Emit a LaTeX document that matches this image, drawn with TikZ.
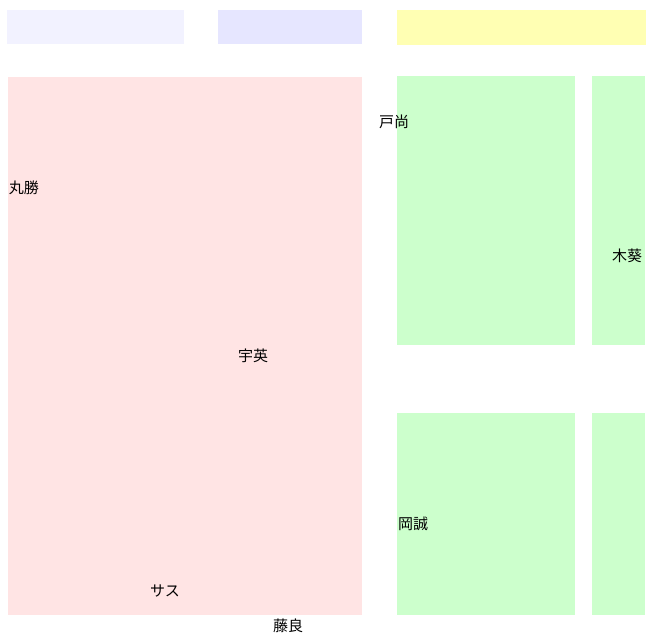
\documentclass[tikz,border=0pt]{standalone}
\usepackage{fontspec}
\usepackage{xcolor}
\newfontfamily\cjk{Noto Sans CJK JP}

\definecolor{lavlight}{HTML}{F2F2FF}
\definecolor{lavender}{HTML}{E6E6FF}
\definecolor{paleyellow}{HTML}{FFFFB3}
\definecolor{palepink}{HTML}{FFE4E4}
\definecolor{palegreen}{HTML}{CCFFCC}

\tikzset{
    label/.style={font=\cjk\fontsize{15}{18}\selectfont, inner sep=0pt, text=black}
}

\begin{document}
\begin{tikzpicture}[x=1pt, y=-1pt]
            \useasboundingbox (0,0) rectangle (648,635);

            \fill[lavlight] (7,10) rectangle (184,44);
            \fill[lavender] (218,10) rectangle (362,44);
            \fill[paleyellow] (397,10) rectangle (646,45);

            \fill[palepink] (8,77) rectangle (362,615);
            \fill[palegreen] (397,76) rectangle (575,345);
            \fill[palegreen] (592,76) rectangle (645,345);
            \fill[palegreen] (397,413) rectangle (575,615);
            \fill[palegreen] (592,413) rectangle (645,615);

            \node[label] (tonao) at (394,122) {戸尚};
            \node[label] (marukatsu) at (24,188) {丸勝};
            \node[label] (uei) at (253,356) {宇英};
            \node[label] (kiaoi) at (627,256) {木葵};
            \node[label] (okamakoto) at (413,524) {岡誠};
            \node[label] (sasu) at (165,591) {サス};
            \node[label] (fujiryo) at (288,626) {藤良};
        \end{tikzpicture}
\end{document}
